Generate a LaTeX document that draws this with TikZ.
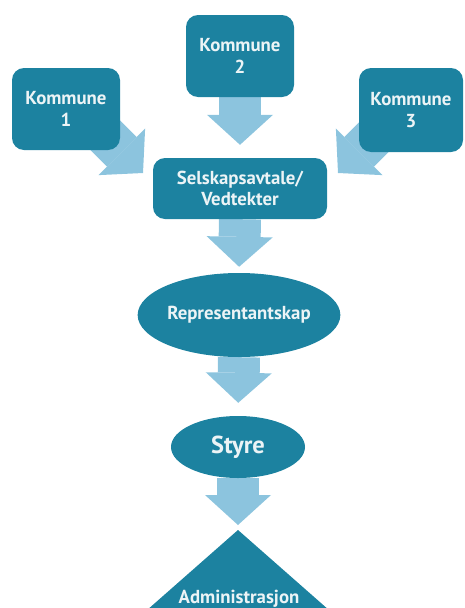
\documentclass[tikz,border=0pt]{standalone}
\usepackage{fontspec}
\setmainfont{PT Sans}
\usetikzlibrary{arrows.meta,shapes.geometric}
\definecolor{boxc}{RGB}{28,130,160}
\definecolor{arrc}{RGB}{140,196,222}
\definecolor{txtc}{RGB}{236,244,246}
\pgfdeclarelayer{bg}
\pgfsetlayers{bg,main}
\begin{document}
\begin{tikzpicture}[x=1pt,y=-1pt,
  box/.style={fill=boxc, rounded corners=12pt, minimum width=108pt, minimum height=82pt,
    inner sep=0pt, text=txtc, font=\bfseries\fontsize{18.8}{21.5}\selectfont, align=center},
  oval/.style={ellipse, fill=boxc, inner sep=0pt, text=txtc},
  fat/.style={draw=arrc, line width=42pt,
    -{Triangle[length=30pt,width=66pt,line width=0pt]}}]
\useasboundingbox (0,0) rectangle (465,608);
\clip (0,0) rectangle (465,608);
% nodes
\node[box] (k1) at (66,109) {Kommune\\1};
\node[box] (k2) at (240,56) {Kommune\\2};
\node[box, minimum width=104pt, minimum height=84pt] (k3) at (411,110) {Kommune\\3};
\node[box, minimum width=174pt, minimum height=61pt] (sel) at (240,188.5) {Selskapsavtale/\\Vedtekter};
\node[oval, minimum width=192pt, minimum height=84pt, font=\bfseries\fontsize{18.8}{21}\selectfont] (rep) at (239,315) {Representantskap};
\node[oval, minimum width=134pt, minimum height=62pt, font=\bfseries\fontsize{24.5}{30}\selectfont] (sty) at (238,447) {Styre};
\coordinate (apex) at (238,530);
\fill[boxc] (apex) -- (338,618) -- (138,618) -- cycle;
\node[text=txtc, font=\bfseries\fontsize{18.8}{22}\selectfont, anchor=base, inner sep=0pt] (adm) at (239,603) {Administrasjon};
% tips of the diagonal arrows
\coordinate (t1) at (143,173);
\coordinate (t3) at (338,173);
\begin{pgfonlayer}{bg}
  \draw[fat] ([shift={(-75,-75)}]t1) -- (t1);
  \draw[fat] ([shift={(75,-75)}]t3) -- (t3);
  \draw[fat, shorten >=13pt] (k2.south) -- (sel.north);
  \draw[fat, shorten >=6pt] (sel.south) -- (rep.north);
  \draw[fat, shorten >=13pt] (rep.south) -- (sty.north);
  \draw[fat, shorten >=5pt] (sty.south) -- (apex);
\end{pgfonlayer}
\end{tikzpicture}
\end{document}
